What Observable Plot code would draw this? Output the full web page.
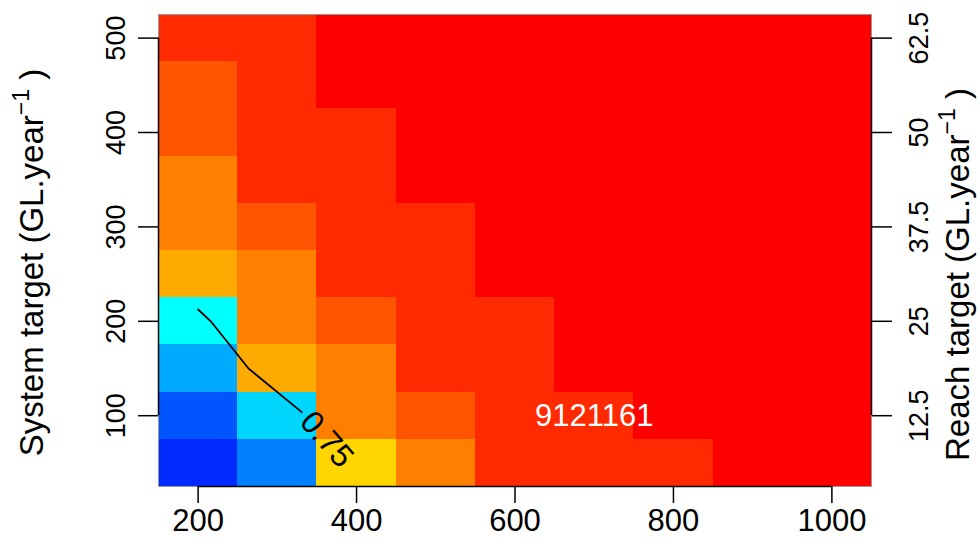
<!DOCTYPE html>
<html><head><meta charset="utf-8">
<script src="https://cdn.jsdelivr.net/npm/d3@7"></script>
<script src="https://cdn.jsdelivr.net/npm/@observablehq/plot@0.6"></script>
<style>html,body{margin:0;padding:0;background:#fff}svg{display:block}</style>
</head><body><div id="chart"></div>
<script>
// ---- data ----
const xCats = [200, 300, 400, 500, 600, 700, 800, 900, 1000];
const yCats = [50, 100, 150, 200, 250, 300, 350, 400, 450, 500];
// rows: y = 50 … 500 (bottom to top); columns: x = 200 … 1000
const values = [
  [0.52, 0.60, 0.77, 0.855, 0.94, 0.94, 0.94, 0.98, 0.99],
  [0.56, 0.69, 0.855, 0.895, 0.93, 0.94, 0.97, 0.98, 0.99],
  [0.645, 0.81, 0.855, 0.93, 0.94, 0.97, 0.98, 0.99, 0.99],
  [0.73, 0.855, 0.895, 0.93, 0.95, 0.97, 0.98, 0.99, 0.99],
  [0.81, 0.85, 0.93, 0.94, 0.97, 0.98, 0.99, 0.99, 0.99],
  [0.85, 0.89, 0.93, 0.95, 0.97, 0.98, 0.99, 0.99, 0.99],
  [0.86, 0.93, 0.94, 0.97, 0.98, 0.99, 0.99, 0.99, 0.99],
  [0.89, 0.93, 0.95, 0.97, 0.98, 0.99, 0.99, 0.99, 0.99],
  [0.90, 0.94, 0.97, 0.98, 0.99, 0.99, 0.99, 0.99, 0.99],
  [0.93, 0.94, 0.97, 0.98, 0.99, 0.99, 0.99, 0.99, 0.99]
];
const colorBreaks = [0.542, 0.583, 0.625, 0.667, 0.708, 0.75, 0.792, 0.833, 0.875, 0.917, 0.958];
const palette = ["#002AFF", "#0055FF", "#0080FF", "#00AAFF", "#00D5FF", "#00FFFF",
                 "#FFD500", "#FFAA00", "#FF8000", "#FF5500", "#FF2A00", "#FF0000"];
const xTicks = [200, 400, 600, 800, 1000];
const yTicks = [100, 200, 300, 400, 500];
const reachTicks = [12.5, 25, 37.5, 50, 62.5];
const systemPerReach = 8;
const contourLevel = 0.75;
const contourLabel = "0.75";
const note = {label: "9121161", x: 700, y: 100};
const yTitle = "System target (GL.year^−1 )";
const y2Title = "Reach target (GL.year^−1 )";

// ---- layout ----
const W = 980, H = 559, mL = 158, mR = 109, mT = 14, mB = 73;
const xDom = [150, 1050], yDom = [25, 525];
const FONT = "Liberation Sans, Arial, Helvetica, sans-serif";
const labelFS = 32;
const titleFS = 33;

// cells
const dx = (xCats[1] - xCats[0]) / 2, dy = (yCats[1] - yCats[0]) / 2;
const cells = [];
yCats.forEach((y, j) => xCats.forEach((x, i) => cells.push({x, y, v: values[j][i]})));

// contour crossings (linear interpolation between cell centres)
const pts = [];
for (let j = 0; j < yCats.length; j++) for (let i = 0; i < xCats.length; i++) {
  const v = values[j][i];
  if (i + 1 < xCats.length) {
    const w = values[j][i + 1];
    if ((v - contourLevel) * (w - contourLevel) < 0) {
      const t = (contourLevel - v) / (w - v);
      pts.push({x: xCats[i] + t * (xCats[i + 1] - xCats[i]), y: yCats[j]});
    }
  }
  if (j + 1 < yCats.length) {
    const w = values[j + 1][i];
    if ((v - contourLevel) * (w - contourLevel) < 0) {
      const t = (contourLevel - v) / (w - v);
      pts.push({x: xCats[i], y: yCats[j] + t * (yCats[j + 1] - yCats[j])});
    }
  }
}
pts.sort((a, b) => b.y - a.y || a.x - b.x);

const kx = (W - mL - mR) / (xDom[1] - xDom[0]);
const ky = (H - mT - mB) / (yDom[1] - yDom[0]);
function atFromEnd(d) {
  let rem = d;
  for (let k = pts.length - 1; k > 0; k--) {
    const a = pts[k - 1], b = pts[k];
    const L = Math.hypot((b.x - a.x) * kx, (b.y - a.y) * ky);
    if (rem <= L) {
      const t = 1 - rem / L;
      return {k, x: a.x + t * (b.x - a.x), y: a.y + t * (b.y - a.y)};
    }
    rem -= L;
  }
  return {k: 1, x: pts[0].x, y: pts[0].y};
}
const ctx = document.createElement("canvas").getContext("2d");
ctx.font = `${labelFS}px ${FONT}`;
const labelLen = ctx.measureText(contourLabel).width;
const lEnd = pts[pts.length - 1];
const lStart = atFromEnd(labelLen);
const cut = atFromEnd(labelLen + 6);
const linePts = pts.slice(0, cut.k).concat([{x: cut.x, y: cut.y}]);
const labelAngle = Math.atan2(-(lEnd.y - lStart.y) * ky, (lEnd.x - lStart.x) * kx) * 180 / Math.PI;
const labelDatum = {x: (lStart.x + lEnd.x) / 2, y: (lStart.y + lEnd.y) / 2, text: contourLabel};

const axisStroke = {stroke: "#000", strokeWidth: 1.5};
const plot = Plot.plot({
  width: W, height: H,
  marginLeft: mL, marginRight: mR, marginTop: mT, marginBottom: mB,
  style: {fontFamily: FONT, background: "#fff", color: "#000"},
  x: {domain: xDom},
  y: {domain: yDom},
  color: {type: "threshold", domain: colorBreaks, range: palette},
  marks: [
    Plot.rect(cells, {x1: d => d.x - dx, x2: d => d.x + dx, y1: d => d.y - dy, y2: d => d.y + dy,
      fill: "v", shapeRendering: "crispEdges"}),
    Plot.line(linePts, {x: "x", y: "y", stroke: "#000", strokeWidth: 1.8}),
    Plot.text([labelDatum], {x: "x", y: "y", text: "text", rotate: labelAngle, fontSize: labelFS, fill: "#000"}),
    Plot.text([note], {x: "x", y: "y", text: "label", fill: "#fff", fontSize: 31}),
    Plot.frame({stroke: "#999", strokeWidth: 1}),
    Plot.ruleY([yDom[0]], {x1: d3.min(xTicks), x2: d3.max(xTicks), ...axisStroke}),
    Plot.ruleX([xDom[0]], {y1: d3.min(yTicks), y2: d3.max(yTicks), ...axisStroke}),
    Plot.ruleX([xDom[1]], {y1: d3.min(reachTicks) * systemPerReach, y2: d3.max(reachTicks) * systemPerReach, ...axisStroke}),
    Plot.axisX({ticks: xTicks, tickSize: 17, tickPadding: 5, fontSize: 31, tickFormat: d => String(d), label: null, strokeWidth: 1.5}),
    Plot.axisY({anchor: "left", ticks: yTicks, tickSize: 20, tickFormat: () => "", label: null, strokeWidth: 1.5}),
    Plot.axisY({anchor: "right", ticks: reachTicks.map(r => r * systemPerReach), tickSize: 20, tickFormat: () => "", label: null, strokeWidth: 1.5}),
    Plot.text(yTicks, {y: d => d, text: d => String(d), frameAnchor: "left", dx: -42, rotate: -90,
      textAnchor: "middle", lineAnchor: "middle", fontSize: 27, fill: "#000"}),
    Plot.text(reachTicks, {y: d => d * systemPerReach, text: d => String(d), frameAnchor: "right", dx: 48, rotate: -90,
      textAnchor: "middle", lineAnchor: "middle", fontSize: 27, fill: "#000"}),
    Plot.text([yTitle], {frameAnchor: "left", dx: -126, dy: 12, rotate: -90, textAnchor: "middle", lineAnchor: "middle", fontSize: titleFS, fill: "#000"}),
    Plot.text([y2Title], {frameAnchor: "right", dx: 87, dy: 24, rotate: -90, textAnchor: "middle", lineAnchor: "middle", fontSize: titleFS, fill: "#000"})
  ]
});

// superscripts for the axis titles
plot.querySelectorAll("text").forEach(t => {
  const s = t.textContent;
  const i = s.indexOf("^");
  if (i < 0 || t.children.length) return;
  const fs = titleFS;
  const pre = s.slice(0, i);
  const rest = s.slice(i + 1);
  const sp = rest.indexOf(" ");
  const sup = rest.slice(0, sp), post = rest.slice(sp);
  t.textContent = "";
  const ns = "http://www.w3.org/2000/svg";
  const a = document.createElementNS(ns, "tspan"); a.textContent = pre; t.appendChild(a);
  const b = document.createElementNS(ns, "tspan"); b.textContent = sup;
  b.setAttribute("font-size", fs * 0.7); b.setAttribute("dy", -fs * 0.42); t.appendChild(b);
  const c = document.createElementNS(ns, "tspan"); c.textContent = post;
  c.setAttribute("dy", fs * 0.42); t.appendChild(c);
});

document.getElementById("chart").appendChild(plot);
</script>
</body></html>
